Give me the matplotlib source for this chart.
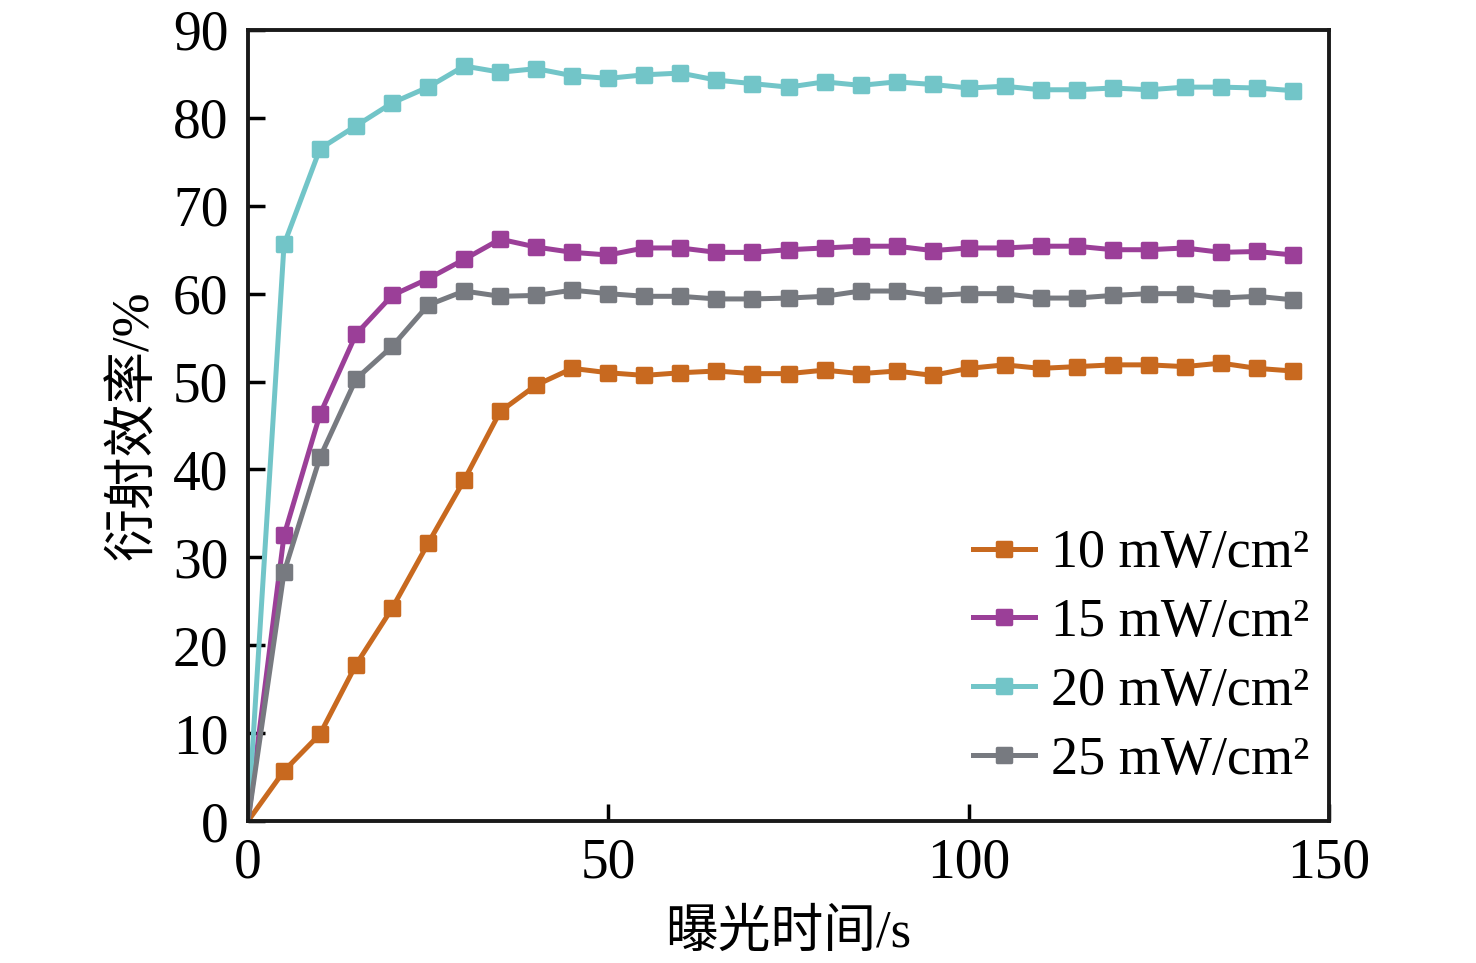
import matplotlib
matplotlib.use("Agg")
import matplotlib.pyplot as plt
from matplotlib.markers import MarkerStyle

time_s = list(range(0, 150, 5))

eff_10 = [0.0, 5.7, 9.9, 17.8, 24.2, 31.6, 38.8, 46.6, 49.6, 51.5, 51.0, 50.7, 51.0, 51.2, 50.9,
          50.9, 51.3, 50.9, 51.2, 50.7, 51.5, 51.9, 51.5, 51.7, 51.9, 51.9, 51.7, 52.1, 51.5, 51.2]
eff_15 = [0.0, 32.5, 46.3, 55.4, 59.8, 61.7, 63.9, 66.2, 65.3, 64.7, 64.4, 65.2, 65.2, 64.7, 64.7,
          65.0, 65.2, 65.4, 65.4, 64.9, 65.2, 65.2, 65.4, 65.4, 65.0, 65.0, 65.2, 64.7, 64.8, 64.4]
eff_20 = [0.0, 65.6, 76.5, 79.1, 81.7, 83.5, 85.9, 85.2, 85.6, 84.8, 84.5, 84.9, 85.1, 84.3, 83.9,
          83.5, 84.1, 83.7, 84.1, 83.8, 83.4, 83.6, 83.2, 83.2, 83.4, 83.2, 83.5, 83.5, 83.4, 83.1]
eff_25 = [0.0, 28.3, 41.4, 50.3, 54.0, 58.7, 60.3, 59.7, 59.8, 60.4, 60.0, 59.7, 59.7, 59.4, 59.4,
          59.5, 59.7, 60.3, 60.3, 59.8, 60.0, 60.0, 59.5, 59.5, 59.8, 60.0, 60.0, 59.5, 59.7, 59.3]

labels = ["10 mW/cm²", "15 mW/cm²", "20 mW/cm²", "25 mW/cm²"]
colors = ["#C8691F", "#9B3F98", "#72C5C8", "#777A80"]
series = [eff_10, eff_15, eff_20, eff_25]

xticks = [0, 50, 100, 150]
yticks = list(range(0, 91, 10))

plt.rcParams['font.family'] = ['Liberation Serif', 'Noto Sans CJK SC']

fig = plt.figure(figsize=(14.76, 9.63), dpi=100)
ax = fig.add_axes([248/1476, 1-821/963, (1329-248)/1476, (821-30)/963])

for y, c, lab in zip(series, colors, labels):
    ax.plot(time_s, y, color=c, lw=3.6, label=lab,
            marker=MarkerStyle('s', joinstyle='round'), ms=9.5, mew=2.5,
            mfc=c, mec=c, markevery=slice(1, None), solid_joinstyle='round')

ax.set_xlim(0, 150)
ax.set_ylim(0, 90)
ax.set_xticks(xticks)
ax.set_yticks(yticks)
ax.tick_params(direction='in', length=12, width=2.5, labelsize=40, pad=8)
ax.tick_params(axis='x', pad=12)
ax.tick_params(axis='y', pad=14)
for s in ax.spines.values():
    s.set_linewidth(2.8)
    s.set_color('#1a1a1a')

ax.set_xlabel("曝光时间/s", fontsize=38, labelpad=14)
ax.set_ylabel("衍射效率/%", fontsize=38, labelpad=10)

leg = ax.legend(loc='lower right', frameon=False, fontsize=39, handlelength=1.15,
                handletextpad=0.3, labelspacing=0.34, borderaxespad=0.3,
                bbox_to_anchor=(1.017, -0.004))

fig.savefig("out.png", dpi=100)
